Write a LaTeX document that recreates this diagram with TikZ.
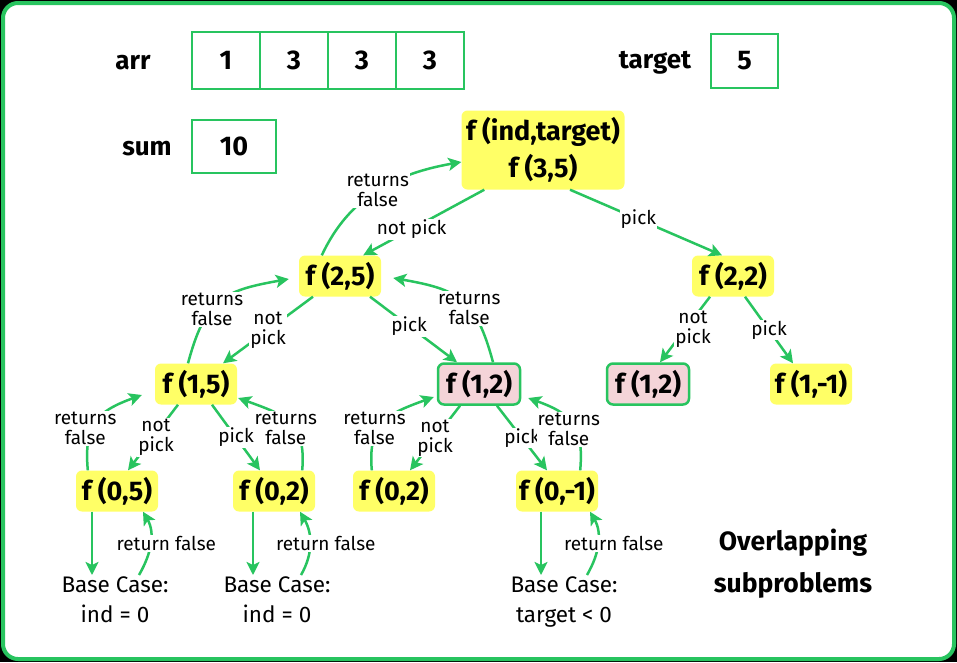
\documentclass[tikz,border=0pt]{standalone}
\usepackage{fontspec}
\setmainfont{Fira Sans}
\usetikzlibrary{arrows.meta}
\definecolor{gr}{RGB}{40,196,95}
\definecolor{fyel}{RGB}{255,255,102}
\definecolor{fpink}{RGB}{244,212,216}
\tikzset{
  fn/.style={fill=fyel, rounded corners=6pt, minimum height=41pt, minimum width=82pt,
    inner sep=2pt, font=\fontsize{27}{30}\selectfont\bfseries},
  dup/.style={fn, fill=fpink, draw=gr, line width=2.5pt},
  lbl/.style={fill=white, inner sep=1pt, align=center, font=\fontsize{19}{20}\selectfont},
  arr/.style={draw=gr, line width=2.5pt, -{Stealth[length=13pt,width=13pt,inset=3pt]}},
  cell/.style={draw=gr, line width=2.5pt, minimum width=68pt, minimum height=57pt,
    inner sep=0pt, font=\fontsize{27}{30}\selectfont\bfseries},
  head/.style={font=\fontsize{26}{30}\selectfont\bfseries},
  base/.style={align=center, inner sep=2pt, anchor=north, font=\fontsize{22.5}{30}\selectfont}
}
\begin{document}
\begin{tikzpicture}[x=1pt,y=1pt]
  \fill[black] (0,0) rectangle (957,-662);
  \draw[gr, line width=4pt, fill=white, rounded corners=15pt] (3,-3) rectangle (954,-659);

  % inputs
  \node[head] (arr) at (133,-63) {arr};
  \foreach \v [count=\i] in {1,3,3,3}
    \node[cell] (a\i) at (158+68*\i,-60.5) {\v};
  \node[head] (sum) at (147,-149) {sum};
  \node[cell, minimum width=84pt, minimum height=53pt] (s) at (234,-146.5) {10};
  \node[head] (tgt) at (655,-63) {target};
  \node[cell, minimum width=67pt, minimum height=54pt] (t) at (744.5,-61) {5};

  % recursion tree
  \node[fn, minimum width=163pt, minimum height=79pt, align=center,
    font=\fontsize{27}{37}\selectfont\bfseries] (root) at (543,-150) {f (ind,target)\\f (3,5)};
  \node[fn] (n25) at (340,-276) {f (2,5)};
  \node[fn] (n22) at (733,-276) {f (2,2)};
  \node[fn] (n15) at (196,-384) {f (1,5)};
  \node[dup] (m12) at (479,-384) {f (1,2)};
  \node[dup] (r12) at (648,-384) {f (1,2)};
  \node[fn] (m11) at (811,-384) {f (1,-1)};
  \node[fn] (n05) at (117,-491) {f (0,5)};
  \node[fn] (n02) at (274,-491) {f (0,2)};
  \node[fn] (m02) at (394,-491) {f (0,2)};
  \node[fn] (m0m1) at (557,-491) {f (0,-1)};

  \node[base] (b05) at (115,-575) {Base Case:\\ind = 0};
  \node[base] (b02) at (277,-575) {Base Case:\\ind = 0};
  \node[base] (b0m1) at (564,-575) {Base Case:\\target < 0};

  \node[align=center, font=\fontsize{26.5}{42}\selectfont\bfseries] (over) at (793,-564)
    {Overlapping\\subproblems};

  % calls
  \draw[arr] ([xshift=23]root.south west) -- node[lbl, pos=.6]{not pick} ([xshift=-18]n25.north east);
  \draw[arr] ([xshift=27]root.south) -- node[lbl, pos=.45]{pick} ([xshift=-11]n22.north);
  \draw[arr] ([xshift=-23]n22.south) -- node[lbl, xshift=8]{not\\pick} ([xshift=12]r12.north);
  \draw[arr] ([xshift=12]n22.south) -- node[lbl]{pick} ([xshift=-18]m11.north);
  \draw[arr] ([xshift=-27]n25.south) -- node[lbl]{not\\pick} ([xshift=27]n15.north);
  \draw[arr] ([xshift=30]n25.south) -- node[lbl, pos=.45]{pick} ([xshift=-22]m12.north);
  \draw[arr] ([xshift=-18]n15.south) -- node[lbl, xshift=3]{not\\pick} ([xshift=11]n05.north);
  \draw[arr] ([xshift=16]n15.south) -- node[lbl]{pick} ([xshift=-14]n02.north);
  \draw[arr] ([xshift=-19]m12.south) -- node[lbl]{not\\pick} ([xshift=16]m02.north);
  \draw[arr] ([xshift=18]m12.south) -- node[lbl]{pick} ([xshift=-10]m0m1.north);

  % returns
  \draw[arr] ([xshift=23]n25.north west) to[out=65,in=190] node[lbl]{returns\\false} ([yshift=-12]root.west);
  \draw[arr] ([xshift=-8]n15.north) to[out=75,in=190,looseness=1.3] node[lbl, pos=.4]{returns\\false} ([xshift=-10,yshift=-3]n25.west);
  \draw[arr] ([xshift=14]m12.north) to[out=105,in=-10,looseness=1.3] node[lbl, pos=.4]{returns\\false} ([xshift=12,yshift=-2]n25.east);
  \draw[arr] ([xshift=12]n05.north west) to[out=95,in=200,looseness=1.3] node[lbl, pos=.4, xshift=-7]{returns\\false} ([xshift=-13,yshift=-11]n15.west);
  \draw[arr] ([xshift=-13]n02.north east) to[out=85,in=-20,looseness=1.3] node[lbl, pos=.4, xshift=-9]{returns\\false} ([xshift=1,yshift=-14]n15.east);
  \draw[arr] ([xshift=19]m02.north west) to[out=95,in=200,looseness=1.3] node[lbl, pos=.4, xshift=-4]{returns\\false} ([xshift=-3,yshift=-13]m12.west);
  \draw[arr] ([xshift=-18]m0m1.north east) to[out=85,in=-20,looseness=1.3] node[lbl, pos=.4, xshift=-7]{returns\\false} ([xshift=7,yshift=-14]m12.east);

  % base cases
  \draw[arr] ([xshift=-25]n05.south) -- ([xshift=-25]n05.south |- b05.north);
  \draw[arr] ([xshift=24]b05.north) to[out=60,in=-60] node[lbl, xshift=16]{return false} ([xshift=26]n05.south);
  \draw[arr] ([xshift=-21]n02.south) -- ([xshift=-21]n02.south |- b02.north);
  \draw[arr] ([xshift=24]b02.north) to[out=60,in=-60] node[lbl, xshift=16]{return false} ([xshift=26]n02.south);
  \draw[arr] ([xshift=-16]m0m1.south) -- ([xshift=-16]m0m1.south |- b0m1.north);
  \draw[arr] ([xshift=23]b0m1.north) to[out=60,in=-60] node[lbl, xshift=16]{return false} ([xshift=33]m0m1.south);
\end{tikzpicture}
\end{document}
